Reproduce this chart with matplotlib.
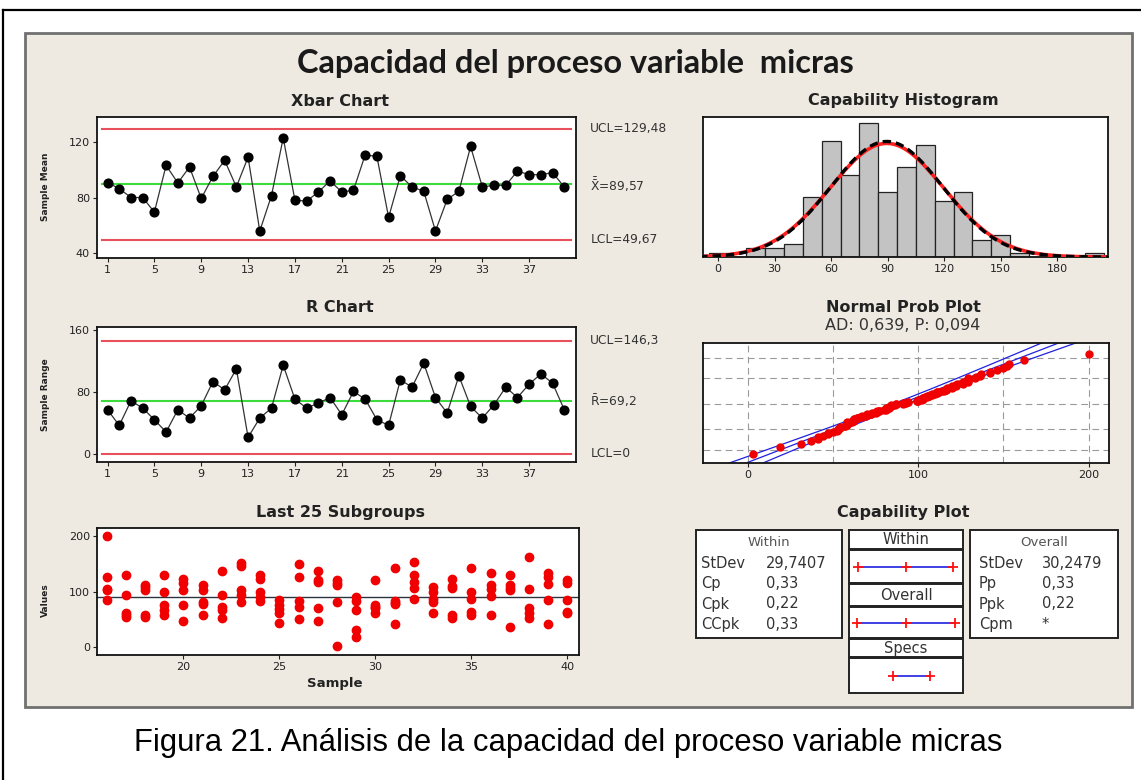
import math
import matplotlib
matplotlib.use("Agg")
import matplotlib.pyplot as plt
import matplotlib.patches as mpatches
import numpy as np

W, H = 1141, 780

# ── data ─────────────────────────────────────────────────────────────────────
SAMPLES = list(range(1, 41))
XBAR = [90.9, 86.6, 80.2, 80.2, 69.7, 103.3, 90.7, 102.1, 79.5, 95.4,
        106.9, 87.8, 109.2, 56.1, 81.6, 123.1, 78.3, 77.6, 84.2, 92.1,
        84.2, 85.4, 110.9, 109.7, 65.9, 95.9, 87.8, 84.7, 56.1, 78.8,
        84.7, 116.9, 87.8, 89.0, 89.0, 99.2, 96.6, 96.6, 98.1, 87.8]
RANGES = [57.2, 37.0, 68.8, 59.4, 44.3, 28.4, 57.2, 46.5, 62.4, 93.8,
          83.0, 110.2, 21.5, 46.5, 59.4, 114.9, 71.0, 59.4, 65.8, 73.1,
          50.8, 80.9, 71.0, 44.3, 37.0, 96.0, 86.5, 117.5, 73.1, 52.9,
          101.1, 61.5, 46.5, 63.7, 86.5, 73.1, 90.4, 103.7, 91.7, 57.2]
XBAR_UCL, XBAR_CL, XBAR_LCL = 129.48, 89.57, 49.67
R_UCL, R_CL, R_LCL = 146.3, 69.2, 0.0

LAST25_IDS = list(range(16, 41))
LAST25_VALUES = [
    [200, 126, 105, 103, 84], [129, 93, 62, 58, 54], [112, 108, 103, 58, 54],
    [129, 99, 75, 67, 58], [123, 116, 103, 76, 47], [111, 103, 81, 77, 57],
    [136, 94, 72, 66, 53], [152, 146, 102, 94, 81], [129, 122, 99, 91, 83],
    [84, 75, 69, 61, 44], [150, 126, 83, 73, 50], [137, 120, 117, 70, 47],
    [120, 115, 111, 81, 3], [91, 83, 67, 31, 19], [120, 75, 72, 70, 62],
    [142, 83, 80, 77, 41], [153, 129, 117, 107, 87], [108, 100, 87, 81, 61],
    [122, 110, 106, 58, 52], [142, 100, 86, 64, 58], [133, 111, 105, 92, 57],
    [129, 111, 106, 103, 37], [162, 104, 70, 62, 53], [134, 126, 114, 84, 41],
    [120, 116, 84, 64, 62],
]

HIST_CENTERS = [0, 10, 20, 30, 40, 50, 60, 70, 80, 90, 100,
                110, 120, 130, 140, 150, 160, 170, 180, 190, 200]
HIST_COUNTS = [1, 0, 2, 2, 3, 14, 27, 19, 31, 15, 21,
               26, 13, 15, 4, 5, 1, 0, 0, 0, 1]
BIN_WIDTH = 10
N_OBS = 200
SD_WITHIN = 29.7407
SD_OVERALL = 30.2479

WITHIN_ROWS = [("StDev", "29,7407"), ("Cp", "0,33"), ("Cpk", "0,22"), ("CCpk", "0,33")]
OVERALL_ROWS = [("StDev", "30,2479"), ("Pp", "0,33"), ("Ppk", "0,22"), ("Cpm", "*")]

# ── style ────────────────────────────────────────────────────────────────────
PANEL = "#EEEAE1"
LIMIT_RED = "#E8505B"
CL_GREEN = "#3DDC3D"
TXT = "#333333"
plt.rcParams["font.family"] = ["DejaVu Sans"]
plt.rcParams["mathtext.fontset"] = "dejavusans"

fig = plt.figure(figsize=(W / 100, H / 100), dpi=100)
fig.patch.set_facecolor("white")

# canvas axes in pixel coordinates for frames and free text
cv = fig.add_axes([0, 0, 1, 1])
cv.set_xlim(0, W)
cv.set_ylim(H, 0)
cv.axis("off")
cv.set_zorder(-1)

cv.plot([3, 3], [10, H], color="black", lw=1.6)
cv.plot([3, W], [10, 10], color="black", lw=1.6)
cv.add_patch(mpatches.Rectangle((25, 33), 1107, 674, fc=PANEL, ec="#707070", lw=2))

cv.text(575, 63, "Capacidad del proceso variable  micras", ha="center", va="center",
        fontsize=23.4, fontweight="bold", color="#1a1a1a", family=["Lato", "DejaVu Sans"])
cv.text(568, 743, "Figura 21. Análisis de la capacidad del proceso variable micras",
        ha="center", va="center", fontsize=22.3, color="black",
        family=["Liberation Sans", "DejaVu Sans"])


def add_ax(x0, y0, x1, y1):
    ax = fig.add_axes([x0 / W, 1 - y1 / H, (x1 - x0) / W, (y1 - y0) / H])
    ax.set_facecolor("white")
    for s in ax.spines.values():
        s.set_linewidth(1.3)
        s.set_color("#111111")
    ax.tick_params(labelsize=8, length=3, width=0.8, pad=2, colors="#222222")
    return ax


def panel_title(x, y, text):
    cv.text(x, y, text, ha="center", va="center", fontsize=11.5,
            fontweight="bold", color="#222222")


def ylab(x, y, text):
    cv.text(x, y, text, ha="center", va="center", rotation=90, fontsize=6.5,
            fontweight="bold", color="#222222")


def limit_labels(ax, items):
    tr = ax.get_yaxis_transform()
    for val, txt in items:
        ax.text(1.03, val, txt, transform=tr, ha="left", va="center",
                fontsize=8.8, color=TXT)


def control_chart(ax, values, ucl, cl, lcl):
    ax.axhline(ucl, color=LIMIT_RED, lw=1.5, xmin=0.01, xmax=0.99)
    ax.axhline(lcl, color=LIMIT_RED, lw=1.5, xmin=0.01, xmax=0.99)
    ax.axhline(cl, color=CL_GREEN, lw=1.5, xmin=0.01, xmax=0.99)
    ax.plot(SAMPLES, values, color="#333333", lw=0.9, marker="o", ms=6.3,
            mfc="black", mec="black", zorder=3)
    ax.set_xlim(0.1, 41.0)
    ax.set_xticks(list(range(1, 41, 4)))


# ── Xbar chart ───────────────────────────────────────────────────────────────
ax1 = add_ax(97, 117, 576, 258)
control_chart(ax1, XBAR, XBAR_UCL, XBAR_CL, XBAR_LCL)
ax1.set_ylim(36.7, 138.1)
ax1.set_yticks([40, 80, 120])
limit_labels(ax1, [(XBAR_UCL, "UCL=129,48"),
                   (XBAR_CL, r"$\bar{\bar{\mathrm{X}}}$=89,57"),
                   (XBAR_LCL, "LCL=49,67")])
panel_title(340, 101, "Xbar Chart")
ylab(45, 187, "Sample Mean")

# ── R chart ──────────────────────────────────────────────────────────────────
ax2 = add_ax(97, 327, 576, 462)
control_chart(ax2, RANGES, R_UCL, R_CL, R_LCL)
ax2.set_ylim(-10.4, 164.4)
ax2.set_yticks([0, 80, 160])
limit_labels(ax2, [(R_UCL, "UCL=146,3"),
                   (R_CL, r"$\bar{\mathrm{R}}$=69,2"),
                   (R_LCL, "LCL=0")])
panel_title(340, 307, "R Chart")
ylab(45, 395, "Sample Range")

# ── Last 25 subgroups ────────────────────────────────────────────────────────
ax3 = add_ax(97, 528, 579, 655)
for sid, vals in zip(LAST25_IDS, LAST25_VALUES):
    ax3.plot([sid] * len(vals), vals, "o", ms=6, color="#F00000", mec="#F00000", zorder=3)
ax3.axhline(XBAR_CL, color="#2B3340", lw=1.0, zorder=2)
ax3.set_xlim(15.5, 40.6)
ax3.set_ylim(-14, 214)
ax3.set_xticks([20, 25, 30, 35, 40])
ax3.set_yticks([0, 100, 200])
panel_title(340, 513, "Last 25 Subgroups")
ylab(45, 600, "Values")
cv.text(335, 683, "Sample", ha="center", va="center", fontsize=9.5,
        fontweight="bold", color="#222222")

# ── Capability histogram ─────────────────────────────────────────────────────
ax4 = add_ax(703, 117, 1108, 257)
ax4.bar(HIST_CENTERS, HIST_COUNTS, width=BIN_WIDTH, color="#C3C3C3",
        edgecolor="#222222", lw=0.9, zorder=2)
xs = np.linspace(-10, 210, 300)
for sd, col, ls, lw in [(SD_OVERALL, "#FF2020", "-", 2.6), (SD_WITHIN, "black", (0, (2.5, 1.5)), 2.4)]:
    dens = N_OBS * BIN_WIDTH * np.exp(-0.5 * ((xs - XBAR_CL) / sd) ** 2) / (sd * math.sqrt(2 * math.pi))
    ax4.plot(xs, dens, color=col, ls=ls, lw=lw, zorder=3)
ax4.set_xlim(-8, 207)
ax4.set_ylim(0, 32.5)
ax4.set_yticks([])
ax4.set_xticks([0, 30, 60, 90, 120, 150, 180])
panel_title(903, 101, "Capability Histogram")

# ── Normal probability plot ──────────────────────────────────────────────────
def norm_ppf(p):
    lo, hi = -8.0, 8.0
    for _ in range(60):
        mid = 0.5 * (lo + hi)
        if 0.5 * (1 + math.erf(mid / math.sqrt(2))) < p:
            lo = mid
        else:
            hi = mid
    return 0.5 * (lo + hi)


ax5 = add_ax(703, 343, 1109, 463)
all_vals = sorted(v for grp in LAST25_VALUES for v in grp)
n = len(all_vals)
zs = [norm_ppf((i - 0.3) / (n + 0.4)) for i in range(1, n + 1)]
for pct in [1, 10, 50, 90, 99]:
    ax5.axhline(norm_ppf(pct / 100), color="#9A9A9A", lw=0.8, ls=(0, (6, 4)), zorder=1)
for xv in [0, 50, 100, 150, 200]:
    ax5.axvline(xv, color="#9A9A9A", lw=0.8, ls=(0, (6, 4)), zorder=1)
zz = np.linspace(-3.6, 3.6, 200)
fit = XBAR_CL + zz * SD_OVERALL
half = 1.96 * SD_OVERALL * np.sqrt((1 + zz ** 2 / 2) / N_OBS)
for xline in (fit, fit - half, fit + half):
    ax5.plot(xline, zz, color="#2020E0", lw=0.9, zorder=2)
ax5.plot(all_vals, zs, "o", ms=5, color="#F00000", mec="#F00000", zorder=3)
ax5.set_xlim(-26.5, 212)
ax5.set_ylim(-3.0, 3.07)
ax5.set_yticks([])
ax5.set_xticks([0, 100, 200])
panel_title(903, 308, "Normal Prob Plot")
cv.text(903, 325, "AD: 0,639, P: 0,094", ha="center", va="center", fontsize=11.5, color=TXT)

# ── Capability plot (boxes) ──────────────────────────────────────────────────
panel_title(903, 512, "Capability Plot")


def box(x0, y0, x1, y1):
    cv.add_patch(mpatches.Rectangle((x0, y0), x1 - x0, y1 - y0, fc="white",
                                    ec="#222222", lw=1.4))


def stats_box(x0, x1, header, rows, lab_x, val_x):
    box(x0, 530, x1, 638)
    cv.text((x0 + x1) / 2, 542, header, ha="center", va="center", fontsize=9.5, color="#555555")
    for k, (lab, val) in enumerate(rows):
        y = 563 + k * 20.5
        cv.text(lab_x, y, lab, ha="left", va="center", fontsize=10.5, color=TXT)
        cv.text(val_x, y, val, ha="left", va="center", fontsize=10.5, color=TXT)


stats_box(696, 842, "Within", WITHIN_ROWS, 701, 766)
stats_box(970, 1118, "Overall", OVERALL_ROWS, 979, 1042)


def spec_line(x0, x1, y, mid):
    cv.plot([x0, x1], [y, y], color="#2020E0", lw=1.2)
    pts = [x0, (x0 + x1) / 2, x1] if mid else [x0, x1]
    cv.plot(pts, [y] * len(pts), "+", color="#FF1010", ms=6.5, mew=1.3)


for (y0, y1, lab), (ly0, ly1, mid, lx0, lx1) in zip(
        [(530, 549, "Within"), (584, 606, "Overall"), (639, 657, "Specs")],
        [(550, 583, True, 858, 953), (607, 638, True, 857, 955), (658, 693, False, 893, 930)]):
    box(849, y0, 963, y1)
    cv.text(906, (y0 + y1) / 2, lab, ha="center", va="center", fontsize=10.5, color=TXT)
    box(849, ly0, 963, ly1)
    spec_line(lx0, lx1, (ly0 + ly1) / 2, mid)

fig.savefig("out.png", dpi=100, facecolor="white")
